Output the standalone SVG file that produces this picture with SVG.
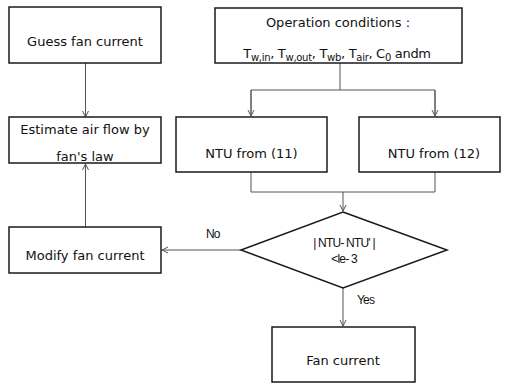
<svg xmlns="http://www.w3.org/2000/svg" width="506" height="383" viewBox="0 0 506 383">
<defs>
<style>
.box{fill:#fff;stroke:#1a1a1a;stroke-width:1.5}
.t{font-family:"DejaVu Sans","Liberation Sans",sans-serif;font-size:13px;fill:#111;text-anchor:middle}
.s{font-family:"Liberation Sans",sans-serif;font-size:12px;fill:#111;letter-spacing:-0.8px}
.c{fill:none;stroke:#555;stroke-width:1}
.sub{font-size:10px}
</style>
<marker id="ah" markerWidth="8" markerHeight="8" refX="7" refY="4" orient="auto" markerUnits="userSpaceOnUse">
<polyline points="1,1 7,4 1,7" fill="none" stroke="#555" stroke-width="1"/>
</marker>
</defs>
<rect width="506" height="383" fill="#fff"/>
<g id="connectors">
<line class="c" x1="85.5" y1="63" x2="85.5" y2="117" marker-end="url(#ah)"/>
<polyline class="c" points="340,63 340,90"/>
<polyline class="c" points="251,115 251,90 435,90 435,115"/>
<line class="c" x1="251" y1="90" x2="251" y2="116" marker-end="url(#ah)"/>
<line class="c" x1="435" y1="90" x2="435" y2="116" marker-end="url(#ah)"/>
<polyline class="c" points="251,172 251,192 435,192 435,172"/>
<line class="c" x1="343" y1="192" x2="343" y2="211" marker-end="url(#ah)"/>
<line class="c" x1="241" y1="250" x2="162" y2="250" marker-end="url(#ah)"/>
<line class="c" x1="85.5" y1="227" x2="85.5" y2="164" marker-end="url(#ah)"/>
<line class="c" x1="343" y1="288" x2="343" y2="326" marker-end="url(#ah)"/>
<text class="s" x="206" y="238">No</text>
<text class="s" x="357" y="304">Yes</text>
</g>
<g id="guess">
<rect class="box" x="9" y="7" width="152" height="56"/>
<text class="t" x="85" y="46">Guess fan current</text>
</g>
<g id="estimate">
<rect class="box" x="9" y="117" width="152" height="46"/>
<text class="t" x="85" y="134">Estimate air flow by</text>
<text class="t" x="85" y="161">fan's law</text>
</g>
<g id="operation">
<rect class="box" x="215" y="8" width="247" height="55"/>
<text class="t" x="338" y="27">Operation conditions :</text>
<text x="337" y="58" style="font-family:'DejaVu Sans','Liberation Sans',sans-serif;font-size:13px;fill:#111;text-anchor:middle;letter-spacing:-0.3px">T<tspan class="sub" dy="3">w,in</tspan><tspan dy="-3">,  T</tspan><tspan class="sub" dy="3">w,out</tspan><tspan dy="-3">,  T</tspan><tspan class="sub" dy="3">wb</tspan><tspan dy="-3">,  T</tspan><tspan class="sub" dy="3">air</tspan><tspan dy="-3">,  C</tspan><tspan class="sub" dy="3">0</tspan><tspan dy="-3"> andm</tspan></text>
</g>
<g id="ntu11">
<rect class="box" x="176" y="117" width="151" height="55"/>
<text class="t" x="251.5" y="158">NTU from (11)</text>
</g>
<g id="ntu12">
<rect class="box" x="359" y="117" width="141" height="55"/>
<text class="t" x="434" y="158">NTU from (12)</text>
</g>
<g id="decision">
<polygon points="343,212 447,250 343,288 241,250" fill="#fff" stroke="#1a1a1a" stroke-width="1.5"/>
<text class="s" x="344" y="247" text-anchor="middle">| NTU- NTU' |</text>
<text class="s" x="344" y="263" text-anchor="middle">&lt;le- 3</text>
</g>
<g id="modify">
<rect class="box" x="9" y="227" width="152" height="46"/>
<text class="t" x="85" y="260">Modify fan current</text>
</g>
<g id="fan">
<rect class="box" x="272" y="327" width="143" height="55"/>
<text class="t" x="343" y="365">Fan current</text>
</g>
</svg>
